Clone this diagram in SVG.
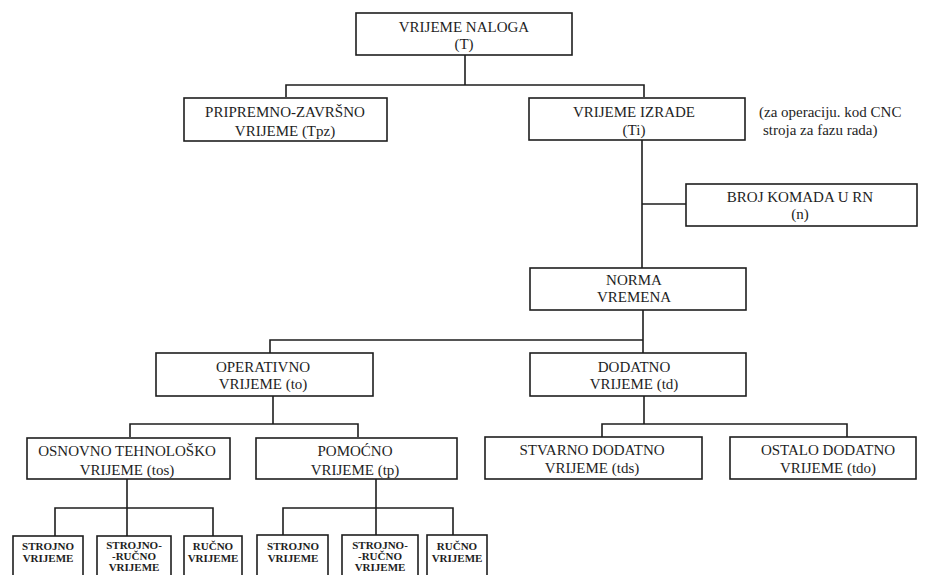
<svg xmlns="http://www.w3.org/2000/svg" width="926" height="575" viewBox="0 0 926 575">
<style>
.box{fill:#fff;stroke:#1e1e1e;stroke-width:1.6}
.ln{fill:none;stroke:#1e1e1e;stroke-width:1.6}
text{font-family:'Liberation Serif','DejaVu Serif','Noto Serif',serif;fill:#1e1e1e;text-anchor:middle;font-size:15px}
.s{font-size:11px;font-weight:bold}
.side{text-anchor:start;font-size:15px}
</style>
<rect width="926" height="575" fill="#fff"/>
<g id="connectors">
<path class="ln" d="M465 55V85M286 97V85H644V97"/>
<path class="ln" d="M642 140V268M642 204H686"/>
<path class="ln" d="M643 310V353M270 353V340H643"/>
<path class="ln" d="M273 396V424M130 437V424H358V437"/>
<path class="ln" d="M127 479V508M55 536V508H213V536M127 508V536"/>
<path class="ln" d="M376 479V508M283 535V508H453V535M376 508V535"/>
<path class="ln" d="M644 396V424M602 437V424H847V437"/>
</g>
<g id="n-vrijeme-naloga"><rect class="box" x="356" y="13" width="216" height="42"/><text x="464" y="32">VRIJEME NALOGA</text><text x="464" y="49">(T)</text></g>
<g id="n-pripremno"><rect class="box" x="184" y="98" width="203" height="43"/><text x="285" y="117">PRIPREMNO-ZAVRŠNO</text><text x="285" y="136">VRIJEME (Tpz)</text></g>
<g id="n-izrade"><rect class="box" x="529" y="98" width="216" height="42"/><text x="634" y="117">VRIJEME IZRADE</text><text x="634" y="135">(Ti)</text></g>
<g id="n-side"><text class="side" x="759" y="117">(za operaciju. kod CNC</text><text class="side" x="763" y="135">stroja za fazu rada)</text></g>
<g id="n-broj"><rect class="box" x="686" y="184" width="231" height="42"/><text x="800" y="202">BROJ KOMADA U RN</text><text x="800" y="219">(n)</text></g>
<g id="n-norma"><rect class="box" x="530" y="268" width="216" height="42"/><text x="634" y="285">NORMA</text><text x="634" y="302">VREMENA</text></g>
<g id="n-operativno"><rect class="box" x="156" y="353" width="217" height="43"/><text x="263" y="372">OPERATIVNO</text><text x="263" y="389">VRIJEME (to)</text></g>
<g id="n-dodatno"><rect class="box" x="530" y="353" width="216" height="43"/><text x="634" y="372">DODATNO</text><text x="634" y="389">VRIJEME (td)</text></g>
<g id="n-osnovno"><rect class="box" x="27" y="438" width="203" height="41"/><text x="127" y="456">OSNOVNO TEHNOLOŠKO</text><text x="127" y="475">VRIJEME (tos)</text></g>
<g id="n-pomocno"><rect class="box" x="256" y="438" width="201" height="41"/><text x="355" y="456">POMOĆNO</text><text x="355" y="475">VRIJEME (tp)</text></g>
<g id="n-stvarno"><rect class="box" x="485" y="437" width="217" height="42"/><text x="592" y="455">STVARNO DODATNO</text><text x="592" y="473">VRIJEME (tds)</text></g>
<g id="n-ostalo"><rect class="box" x="730" y="437" width="186" height="42"/><text x="828" y="455">OSTALO DODATNO</text><text x="828" y="473">VRIJEME (tdo)</text></g>
<g id="n-strojno1"><rect class="box" x="13" y="536" width="70" height="60"/><text class="s" x="48" y="550">STROJNO</text><text class="s" x="48" y="562">VRIJEME</text></g>
<g id="n-strojnorucno1"><rect class="box" x="97" y="536" width="74" height="60"/><text class="s" x="134" y="549">STROJNO-</text><text class="s" x="134" y="560">-RUČNO</text><text class="s" x="134" y="571">VRIJEME</text></g>
<g id="n-rucno1"><rect class="box" x="184" y="536" width="58" height="60"/><text class="s" x="213" y="550">RUČNO</text><text class="s" x="213" y="562">VRIJEME</text></g>
<g id="n-strojno2"><rect class="box" x="257" y="535" width="71" height="60"/><text class="s" x="293" y="550">STROJNO</text><text class="s" x="293" y="562">VRIJEME</text></g>
<g id="n-strojnorucno2"><rect class="box" x="342" y="535" width="76" height="60"/><text class="s" x="380" y="549">STROJNO-</text><text class="s" x="380" y="560">-RUČNO</text><text class="s" x="380" y="571">VRIJEME</text></g>
<g id="n-rucno2"><rect class="box" x="427" y="535" width="60" height="60"/><text class="s" x="457" y="550">RUČNO</text><text class="s" x="457" y="562">VRIJEME</text></g>
</svg>
